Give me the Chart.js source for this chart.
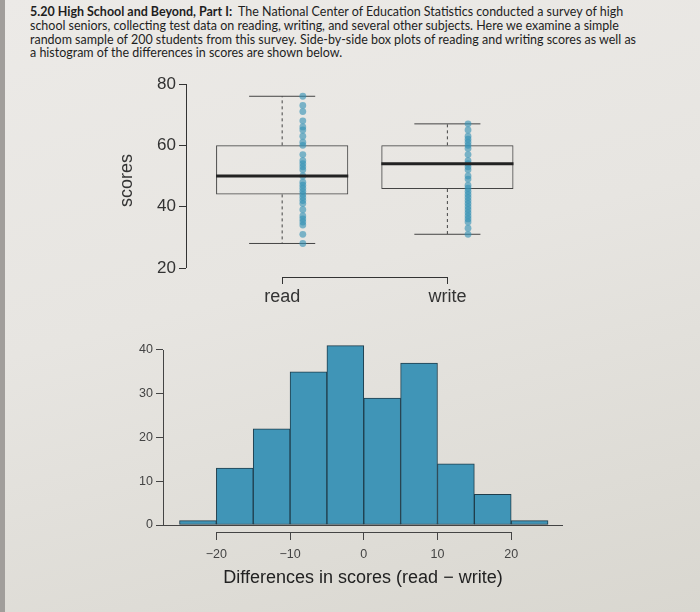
<!DOCTYPE html>
<html>
<head>
<meta charset="utf-8">
<script src="https://cdn.jsdelivr.net/npm/chart.js@4.4.0/dist/chart.umd.min.js"></script>
<style>
  html, body { margin: 0; padding: 0; }
  body {
    width: 700px; height: 612px; position: relative; overflow: hidden;
    background: linear-gradient(165deg, #eceae7 0%, #e7e5e1 45%, #d9d7d0 100%);
  }
  #edge { position: absolute; left: 0; top: 0; width: 5px; height: 612px; background: #a19e9b; }
  #intro {
    position: absolute; left: 30px; top: 5px;
    font-family: Lato, "Open Sans", sans-serif; font-size: 12.8px; line-height: 13.8px;
    color: #1e1e1e; white-space: nowrap; transform-origin: 0 0;
  }
  canvas { position: absolute; }
  #boxCanvas { left: 100px; top: 70px; }
  #histCanvas { left: 100px; top: 330px; }
</style>
</head>
<body>
<div id="edge"></div>
<div id="intro">
  <div id="line1"><b>5.20 High School and Beyond, Part I:</b>&nbsp; The National Center of Education Statistics conducted a survey of high</div>
  <div>school seniors, collecting test data on reading, writing, and several other subjects. Here we examine a simple</div>
  <div>random sample of 200 students from this survey. Side-by-side box plots of reading and writing scores as well as</div>
  <div>a histogram of the differences in scores are shown below.</div>
</div>
<canvas id="boxCanvas" width="450" height="245"></canvas>
<canvas id="histCanvas" width="480" height="270"></canvas>
<script>
// box plot data: min, Q1, median, Q3, max
const groups = ['read', 'write'];
const readFive = [28, 44, 50, 60, 76];
const writeFive = [31, 45.75, 54, 60, 67];
// distinct scores shown as dots beside each box
const readScores = [28, 31, 34, 35, 36, 37, 39, 41, 42, 43, 44, 45, 46, 47, 48, 50, 52, 53, 54, 55, 57, 60, 61, 63, 65, 66, 68, 71, 73, 76];
const writeScores = [31, 33, 35, 36, 37, 38, 39, 40, 41, 42, 43, 44, 45, 46, 47, 49, 50, 52, 53, 54, 55, 57, 59, 60, 61, 62, 63, 65, 67];
const scoreTicks = [20, 40, 60, 80];

// histogram of read - write
const binEdges = [-25, -20, -15, -10, -5, 0, 5, 10, 15, 20, 25];
const binCounts = [1, 13, 22, 35, 41, 29, 37, 14, 7, 1];
const diffTicks = [-20, -10, 0, 10, 20];
const countTicks = [0, 10, 20, 30, 40];

Chart.defaults.font.family = '"Liberation Sans", Arial, sans-serif';
Chart.defaults.color = '#444';

// fit the paragraph to the width of the photographed page
const intro = document.getElementById('intro');
const w1 = document.getElementById('line1').getBoundingClientRect().width;
intro.style.transform = 'scaleX(' + (606 / w1) + ')';

// R style axes: lines only span first..last tick
const rAxes = {
  id: 'rAxes',
  afterDraw(chart, args, opts) {
    const ctx = chart.ctx, area = chart.chartArea;
    const xs = chart.scales.x, ys = chart.scales.y;
    ctx.save();
    ctx.strokeStyle = opts.color;
    ctx.lineWidth = 1;
    ctx.beginPath();
    ctx.moveTo(area.left + 0.5, ys.getPixelForValue(opts.yTicks[0]));
    ctx.lineTo(area.left + 0.5, ys.getPixelForValue(opts.yTicks[opts.yTicks.length - 1]));
    ctx.moveTo(xs.getPixelForValue(opts.xTicks[0]), area.bottom + 0.5);
    ctx.lineTo(xs.getPixelForValue(opts.xTicks[opts.xTicks.length - 1]), area.bottom + 0.5);
    if (opts.baseline) {
      const y0 = Math.round(ys.getPixelForValue(0)) + 0.5;
      ctx.moveTo(area.left, y0);
      ctx.lineTo(area.right, y0);
    }
    ctx.stroke();
    ctx.restore();
  }
};

function fixedTicks(list) {
  return scale => { scale.ticks = list.map(v => ({ value: v })); };
}

// ---------- box plots ----------
const fives = [readFive, writeFive];
const scoreLists = [readScores, writeScores];
const BOX_HALF = 0.4, CAP_HALF = 0.2, DOT_SHIFT = 0.125;

function pieces(build) {
  const out = [];
  fives.forEach((f, i) => {
    build(f, i + 1).forEach(seg => { out.push(...seg, { x: i + 1, y: null }); });
  });
  return out;
}

const medianData = pieces((f, c) => [[{ x: c - BOX_HALF, y: f[2] }, { x: c + BOX_HALF, y: f[2] }]]);
const whiskerData = pieces((f, c) => [
  [{ x: c, y: f[3] }, { x: c, y: f[4] }],
  [{ x: c, y: f[1] }, { x: c, y: f[0] }]
]);
const capData = pieces((f, c) => [
  [{ x: c - CAP_HALF, y: f[4] }, { x: c + CAP_HALF, y: f[4] }],
  [{ x: c - CAP_HALF, y: f[0] }, { x: c + CAP_HALF, y: f[0] }]
]);
const dotData = [];
scoreLists.forEach((list, i) => list.forEach(v => dotData.push({ x: i + 1 + DOT_SHIFT, y: v })));

new Chart(document.getElementById('boxCanvas'), {
  type: 'bar',
  data: {
    datasets: [
      {
        type: 'line', data: medianData, borderColor: '#222', borderWidth: 3,
        pointRadius: 0, spanGaps: false, order: 0
      },
      {
        type: 'scatter', data: dotData, pointRadius: 3.4, borderWidth: 0,
        backgroundColor: 'rgba(52,145,180,0.62)', order: 1
      },
      {
        type: 'line', data: capData, borderColor: '#444', borderWidth: 1,
        pointRadius: 0, spanGaps: false, order: 2
      },
      {
        type: 'line', data: whiskerData, borderColor: '#444', borderWidth: 1,
        borderDash: [3, 3], pointRadius: 0, spanGaps: false, order: 3
      },
      {
        type: 'bar', data: fives.map((f, i) => ({ x: i + 1, y: [f[1], f[3]] })),
        backgroundColor: 'rgba(255,255,255,0)', borderColor: '#444', borderWidth: 1,
        borderSkipped: false, barPercentage: 1, categoryPercentage: 0.8, order: 4
      }
    ]
  },
  options: {
    responsive: false,
    animation: false,
    layout: { padding: { left: 14, top: 14, right: 20, bottom: 6 } },
    plugins: {
      legend: { display: false },
      tooltip: { enabled: false },
      rAxes: { color: '#333', xTicks: [1, 2], yTicks: scoreTicks }
    },
    scales: {
      x: {
        type: 'linear', min: 0.418, max: 2.5, offset: false,
        afterBuildTicks: fixedTicks([1, 2]),
        afterFit: s => { s.height = 32; },
        border: { display: false },
        grid: { offset: false, drawOnChartArea: false, tickLength: 7, color: '#333' },
        ticks: { padding: 2, color: '#333', font: { size: 18 }, callback: v => groups[v - 1] }
      },
      y: {
        min: 17.07, max: 80,
        afterBuildTicks: fixedTicks(scoreTicks),
        afterFit: s => { s.width = 72; },
        border: { display: false },
        grid: { offset: false, drawOnChartArea: false, tickLength: 7, color: '#333' },
        ticks: { padding: 3, color: '#333', font: { size: 17 } },
        title: { display: true, text: 'scores', color: '#333', font: { size: 18 }, padding: { top: 2 } }
      }
    }
  },
  plugins: [rAxes]
});

// ---------- histogram ----------
const binCenters = binCounts.map((c, i) => (binEdges[i] + binEdges[i + 1]) / 2);
const minus = v => (v < 0 ? '\u2212' + Math.abs(v) : String(v));

new Chart(document.getElementById('histCanvas'), {
  type: 'bar',
  data: {
    datasets: [{
      data: binCenters.map((x, i) => ({ x: x, y: binCounts[i] })),
      backgroundColor: '#4095b7',
      borderColor: '#1f3d4b',
      borderWidth: 1,
      borderSkipped: false,
      barPercentage: 1,
      categoryPercentage: 1
    }]
  },
  options: {
    responsive: false,
    animation: false,
    layout: { padding: { left: 10, top: 11.25, right: 17, bottom: 8 } },
    plugins: {
      legend: { display: false },
      tooltip: { enabled: false },
      rAxes: { color: '#444', xTicks: diffTicks, yTicks: countTicks, baseline: true }
    },
    scales: {
      x: {
        type: 'linear', min: -27.24, max: 27.03, offset: false,
        afterBuildTicks: fixedTicks(diffTicks),
        afterFit: s => { s.height = 60; },
        border: { display: false },
        grid: { offset: false, drawOnChartArea: false, tickLength: 8, color: '#444' },
        ticks: { padding: 7, color: '#444', font: { size: 12.5 }, callback: minus },
        title: {
          display: true, text: 'Differences in scores (read \u2212 write)',
          color: '#222', font: { size: 18 }, padding: { bottom: 3 }
        }
      },
      y: {
        min: -1.6, max: 42,
        afterBuildTicks: fixedTicks(countTicks),
        afterFit: s => { s.width = 53; },
        border: { display: false },
        grid: { offset: false, drawOnChartArea: false, tickLength: 7, color: '#444' },
        ticks: { padding: 3, color: '#444', font: { size: 12.5 } }
      }
    }
  },
  plugins: [rAxes]
});
</script>
</body>
</html>
